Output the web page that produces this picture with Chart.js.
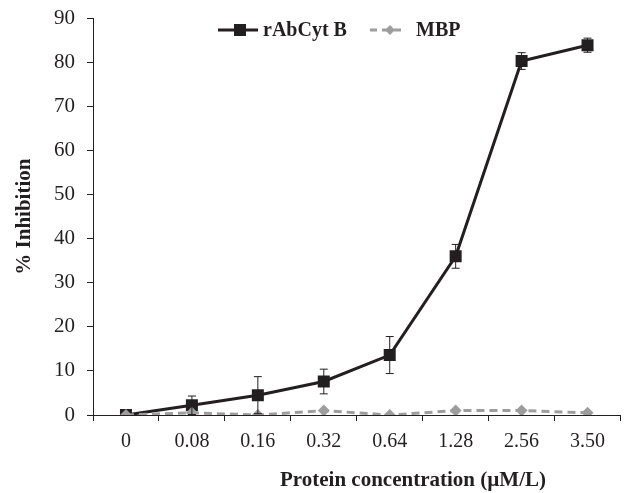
<!DOCTYPE html>
<html>
<head>
<meta charset="utf-8">
<script src="https://cdn.jsdelivr.net/npm/chart.js@4"></script>
<style>
body { margin: 0; background: #fff; }
</style>
</head>
<body>
<canvas id="inhibitionChart" width="629" height="493"></canvas>
<script>
const concLabels = ['0', '0.08', '0.16', '0.32', '0.64', '1.28', '2.56', '3.50'];
const cytValues = [0, 2.2, 4.5, 7.6, 13.6, 36.0, 80.3, 83.9];
const cytErrors = [0, 2.1, 4.2, 2.8, 4.2, 2.7, 1.9, 1.6];
const mbpValues = [0, 0.5, 0, 1.0, 0, 1.0, 1.0, 0.5];

const serif = "'Liberation Serif', 'Times New Roman', serif";
const ink = '#231f20';
const grey = '#9d9d9d';

Chart.defaults.font.family = serif;
Chart.defaults.color = ink;

// error bars for rAbCyt B
const errorBars = {
    id: 'errorBars',
    afterDatasetsDraw(chart) {
        const ctx = chart.ctx;
        const y = chart.scales.y;
        const meta = chart.getDatasetMeta(0);
        ctx.save();
        ctx.strokeStyle = ink;
        ctx.lineWidth = 1;
        meta.data.forEach((pt, i) => {
            const e = cytErrors[i];
            if (!e) return;
            const top = y.getPixelForValue(cytValues[i] + e);
            const bot = y.getPixelForValue(cytValues[i] - e);
            ctx.beginPath();
            ctx.moveTo(pt.x, top); ctx.lineTo(pt.x, bot);
            ctx.moveTo(pt.x - 4, top); ctx.lineTo(pt.x + 4, top);
            ctx.moveTo(pt.x - 4, bot); ctx.lineTo(pt.x + 4, bot);
            ctx.stroke();
        });
        ctx.restore();
    }
};

// legend inside the plot and the x axis title
const extras = {
    id: 'extras',
    afterDraw(chart) {
        const ctx = chart.ctx;
        ctx.save();
        ctx.font = 'bold 20px ' + serif;
        ctx.fillStyle = ink;
        ctx.textBaseline = 'middle';

        const ly = 30;
        // rAbCyt B
        ctx.strokeStyle = ink;
        ctx.lineWidth = 3;
        ctx.beginPath(); ctx.moveTo(218, ly); ctx.lineTo(258, ly); ctx.stroke();
        ctx.fillRect(234, ly - 6, 12, 12);
        ctx.fillText('rAbCyt B', 263, ly + 1);
        // MBP
        ctx.strokeStyle = grey;
        ctx.setLineDash([7, 5]);
        ctx.beginPath(); ctx.moveTo(370, ly); ctx.lineTo(405, ly); ctx.stroke();
        ctx.setLineDash([]);
        ctx.fillStyle = grey;
        ctx.beginPath();
        ctx.moveTo(390, ly - 5); ctx.lineTo(395, ly); ctx.lineTo(390, ly + 5); ctx.lineTo(385, ly);
        ctx.closePath(); ctx.fill();
        ctx.fillStyle = ink;
        ctx.fillText('MBP', 416, ly + 1);

        ctx.textAlign = 'center';
        ctx.font = 'bold 21px ' + serif;
        ctx.fillText('Protein concentration (\u00b5M/L)', 413, 481);
        ctx.restore();
    }
};

const ctxInhibition = document.getElementById('inhibitionChart');

const inhibitionChart = new Chart(ctxInhibition, {
    type: 'line',
    data: {
        labels: concLabels,
        datasets: [{
            label: 'rAbCyt B',
            data: cytValues,
            borderColor: ink,
            backgroundColor: ink,
            borderWidth: 3,
            pointStyle: 'rect',
            pointRadius: 8.5,
            pointBorderWidth: 0,
            tension: 0,
            order: 1
        }, {
            label: 'MBP',
            data: mbpValues,
            borderColor: grey,
            backgroundColor: grey,
            borderWidth: 3,
            borderDash: [8, 5],
            pointStyle: 'rectRot',
            pointRadius: 6,
            pointBorderWidth: 0,
            tension: 0,
            order: 0
        }]
    },
    options: {
        responsive: false,
        animation: false,
        layout: {
            padding: { top: 18, right: 7, left: 0, bottom: 0 }
        },
        plugins: {
            legend: { display: false },
            tooltip: { enabled: false }
        },
        scales: {
            y: {
                min: 0,
                max: 90,
                ticks: {
                    stepSize: 10,
                    padding: 12,
                    font: { size: 21, lineHeight: 0.6 }
                },
                border: { color: ink, width: 1 },
                grid: {
                    drawOnChartArea: false,
                    tickLength: 6,
                    color: ink
                },
                title: {
                    display: true,
                    text: '% Inhibition',
                    font: { size: 21, weight: 'bold' },
                    padding: { top: 12, bottom: 0 }
                },
                afterFit(scale) { scale.width = 93; }
            },
            x: {
                offset: true,
                ticks: {
                    padding: 9,
                    font: { size: 20 }
                },
                border: { color: ink, width: 1 },
                grid: {
                    offset: true,
                    drawOnChartArea: false,
                    tickLength: 6,
                    color: ink
                },
                afterFit(scale) { scale.height = 78; }
            }
        }
    },
    plugins: [errorBars, extras]
});
</script>
</body>
</html>
